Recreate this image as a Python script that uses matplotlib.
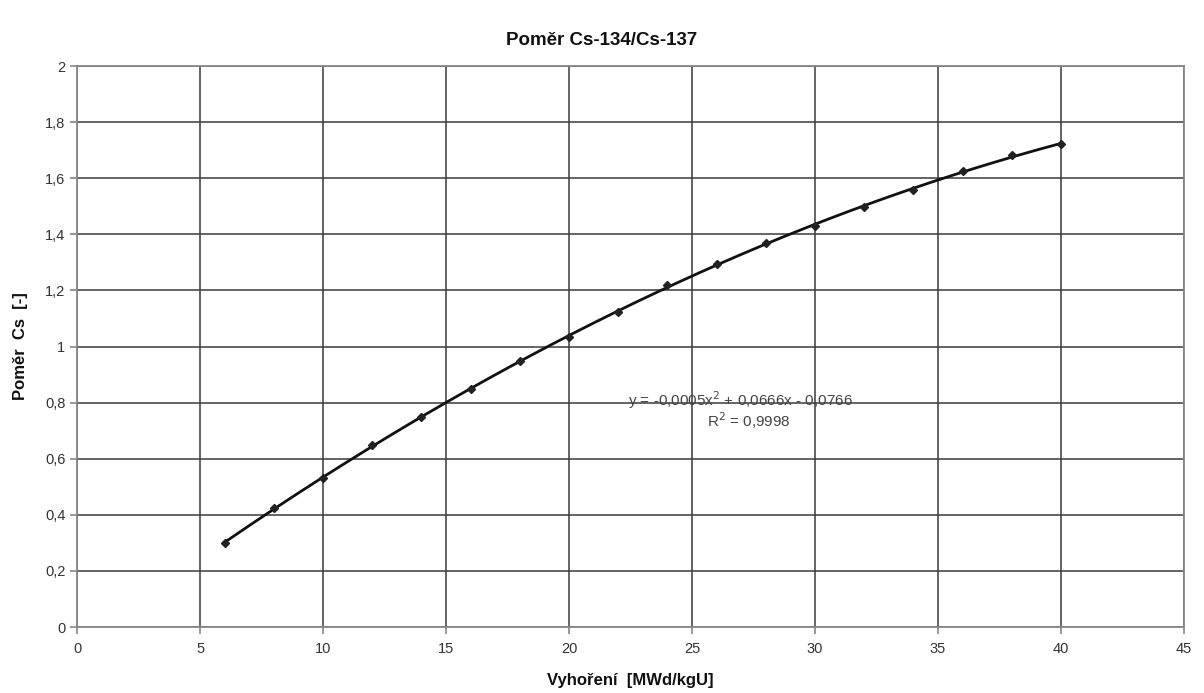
import numpy as np
import matplotlib
matplotlib.use("Agg")
import matplotlib.pyplot as plt

# Data
burnup = [6, 8, 10, 12, 14, 16, 18, 20, 22, 24, 26, 28, 30, 32, 34, 36, 38, 40]
ratio = [0.30, 0.425, 0.53, 0.648, 0.748, 0.849, 0.95, 1.033, 1.122, 1.221,
         1.296, 1.368, 1.431, 1.498, 1.558, 1.626, 1.682, 1.721]
x_ticks = [0, 5, 10, 15, 20, 25, 30, 35, 40, 45]
y_ticks = [0, 0.2, 0.4, 0.6, 0.8, 1.0, 1.2, 1.4, 1.6, 1.8, 2.0]
y_tick_labels = ["0", "0,2", "0,4", "0,6", "0,8", "1", "1,2", "1,4", "1,6", "1,8", "2"]
title = "Poměr Cs-134/Cs-137"
xlabel = "Vyhoření  [MWd/kgU]"
ylabel = "Poměr  Cs  [-]"
eq_text = "y = -0,0005x$^2$ + 0,0666x - 0,0766"
r2_text = "R$^2$ = 0,9998"

plt.rcParams['font.family'] = ['Liberation Sans', 'DejaVu Sans']

fig = plt.figure(figsize=(12.04, 6.93), dpi=100)
ax = fig.add_axes([0.064, 0.0952, 0.9194, 0.8095])

ax.set_xlim(0, 45)
ax.set_ylim(0, 2)
ax.set_xticks(x_ticks)
ax.set_xticklabels([str(t) for t in x_ticks])
ax.set_yticks(y_ticks)
ax.set_yticklabels(y_tick_labels)

ax.grid(True, color='#3a3a3a', linewidth=1.1)
ax.set_axisbelow(True)
for s in ax.spines.values():
    s.set_color('#888888')
    s.set_linewidth(1.3)

ax.tick_params(axis='both', colors='#888888', length=5, width=1.2,
               labelcolor='#333333', labelsize=10.5)
ax.tick_params(axis='x', pad=6)

# trend line (quadratic fit of the data)
coef = np.polyfit(burnup, ratio, 2)
xs = np.linspace(min(burnup), max(burnup), 200)
ax.plot(xs, np.polyval(coef, xs), color='#111111', linewidth=2.0, zorder=3)

# data points
ax.plot(burnup, ratio, linestyle='none', marker='D', markersize=4.5,
        color='#222222', zorder=4)

ax.text(26.95, 0.808, eq_text, ha='center', va='center', fontsize=11,
        color='#444444', zorder=5)
ax.text(27.3, 0.735, r2_text, ha='center', va='center', fontsize=11,
        color='#444444', zorder=5)

fig.text(0.5, 0.942, title, ha='center', va='center', fontsize=13.5,
         fontweight='bold', color='#111111')
ax.set_xlabel(xlabel, fontsize=12, fontweight='bold', color='#111111', labelpad=12)
ax.set_ylabel(ylabel, fontsize=12, fontweight='bold', color='#111111', labelpad=12)

fig.savefig("out.png", dpi=100, facecolor='white')
